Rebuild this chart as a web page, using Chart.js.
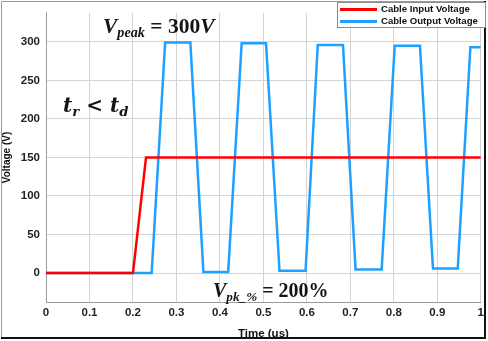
<!DOCTYPE html>
<html>
<head>
<meta charset="utf-8">
<script src="https://cdn.jsdelivr.net/npm/chart.js@4.4.0/dist/chart.umd.min.js"></script>
<style>
  html, body { margin: 0; padding: 0; background: #fff; }
  #wrap { position: relative; width: 488px; height: 341px; }
  #chart { position: absolute; left: 0; top: 0; }
  .note { position: absolute; font-family: "Liberation Serif", serif; font-weight: bold; color: #141414; white-space: nowrap; line-height: 1; }
  .note i { font-style: italic; }
  .note sub { font-size: 0.66em; vertical-align: -0.3em; font-style: italic; }
  #legend { position: absolute; left: 337px; top: 2px; width: 147px; height: 24px; background: #fff;
            border: 1px solid #8c8c8c; font: bold 9.6px "Liberation Sans", Arial, sans-serif; color: #111; }
  #legend div { position: absolute; left: 2px; right: 0; height: 12px; line-height: 12px; white-space: nowrap; }
  #legend span.sw { position: absolute; left: 0; top: 5px; width: 37px; height: 2.5px; }
  #legend span.tx { position: absolute; left: 41px; top: 0; white-space: nowrap; }
</style>
</head>
<body>
<div id="wrap">
  <canvas id="chart" width="488" height="341"></canvas>
  <div class="note" style="left:103px; top:16px; font-size:21.5px;"><i>V</i><sub>peak</sub> = 300<i>V</i></div>
  <div class="note" style="left:63px; top:95px; font-size:20px; font-family:'DejaVu Serif', serif;"><i>t</i><sub>r</sub> &lt; <i>t</i><sub>d</sub></div>
  <div class="note" style="left:213px; top:280px; font-size:20px;"><i>V</i><sub>pk_%</sub> = 200%</div>
  <div id="legend">
    <div style="top:0px;"><span class="sw" style="background:#ff0000"></span><span class="tx">Cable Input Voltage</span></div>
    <div style="top:12px;"><span class="sw" style="background:#1ea0ff"></span><span class="tx">Cable Output Voltage</span></div>
  </div>
</div>
<script>
// Chart data
const inputTime = [0, 0.2, 0.23, 1];
const inputVolt = [0, 0, 150, 150];

const outputTime = [0, 0.243, 0.274, 0.332, 0.362, 0.419, 0.45, 0.506, 0.537, 0.597,
                    0.625, 0.683, 0.712, 0.772, 0.802, 0.86, 0.89, 0.947, 0.976, 1];
const outputVolt = [0, 0, 299, 299, 1.5, 1.5, 298, 298, 3, 3,
                    296, 296, 4.8, 4.8, 295, 295, 6, 6, 293, 293];

const xTicks = [0, 0.1, 0.2, 0.3, 0.4, 0.5, 0.6, 0.7, 0.8, 0.9, 1];
const yTicks = [0, 50, 100, 150, 200, 250, 300];

const toPoints = (xs, ys) => xs.map((x, i) => ({ x: x, y: ys[i] }));

// Outer frame like the exported figure
const framePlugin = {
    id: 'frame',
    afterDraw(chart) {
        const ctx = chart.ctx;
        ctx.save();
        ctx.strokeStyle = '#9a9a9a';
        ctx.lineWidth = 1;
        ctx.beginPath();
        ctx.moveTo(1.5, 338);
        ctx.lineTo(1.5, 1.5);
        ctx.lineTo(485, 1.5);
        ctx.stroke();
        ctx.strokeStyle = '#111';
        ctx.lineWidth = 2;
        ctx.beginPath();
        ctx.moveTo(1, 338);
        ctx.lineTo(485, 338);
        ctx.lineTo(485, 1);
        ctx.stroke();
        ctx.restore();
    }
};

const tickFont = { family: '"Liberation Sans", Arial, sans-serif', size: 11.5, weight: 'bold' };

new Chart(document.getElementById('chart'), {
    type: 'line',
    data: {
        datasets: [{
            label: 'Cable Input Voltage',
            data: toPoints(inputTime, inputVolt),
            borderColor: '#ff0000',
            borderWidth: 2.5,
            pointRadius: 0,
            tension: 0
        }, {
            label: 'Cable Output Voltage',
            data: toPoints(outputTime, outputVolt),
            borderColor: '#1ea0ff',
            borderWidth: 2.5,
            pointRadius: 0,
            tension: 0
        }]
    },
    options: {
        responsive: false,
        animation: false,
        layout: { padding: { left: 0, right: 5, top: 11, bottom: 0 } },
        plugins: {
            legend: { display: false },
            tooltip: { enabled: false }
        },
        scales: {
            x: {
                type: 'linear',
                min: 0,
                max: 1,
                afterBuildTicks: axis => { axis.ticks = xTicks.map(v => ({ value: v })); },
                afterFit: axis => { axis.height = 39; },
                ticks: {
                    font: tickFont,
                    color: '#222',
                    padding: 4,
                    maxRotation: 0,
                    callback: v => String(v)
                },
                grid: { color: '#d4d4d4', drawTicks: false },
                border: { color: '#9a9a9a' },
                title: {
                    display: true,
                    text: 'Time (us)',
                    font: tickFont,
                    color: '#111',
                    padding: { top: 0, bottom: 0 }
                }
            },
            y: {
                min: -37.5,
                max: 337.5,
                afterBuildTicks: axis => { axis.ticks = yTicks.map(v => ({ value: v })); },
                afterFit: axis => { axis.width = 46; },
                ticks: {
                    font: tickFont,
                    color: '#222',
                    padding: 6
                },
                grid: { color: '#d4d4d4', drawTicks: false },
                border: { color: '#9a9a9a' },
                title: {
                    display: true,
                    text: 'Voltage (V)',
                    font: { family: '"Liberation Sans", Arial, sans-serif', size: 10, weight: 'bold' },
                    color: '#111',
                    padding: { top: 1, bottom: 0 }
                }
            }
        }
    },
    plugins: [framePlugin]
});
</script>
</body>
</html>
